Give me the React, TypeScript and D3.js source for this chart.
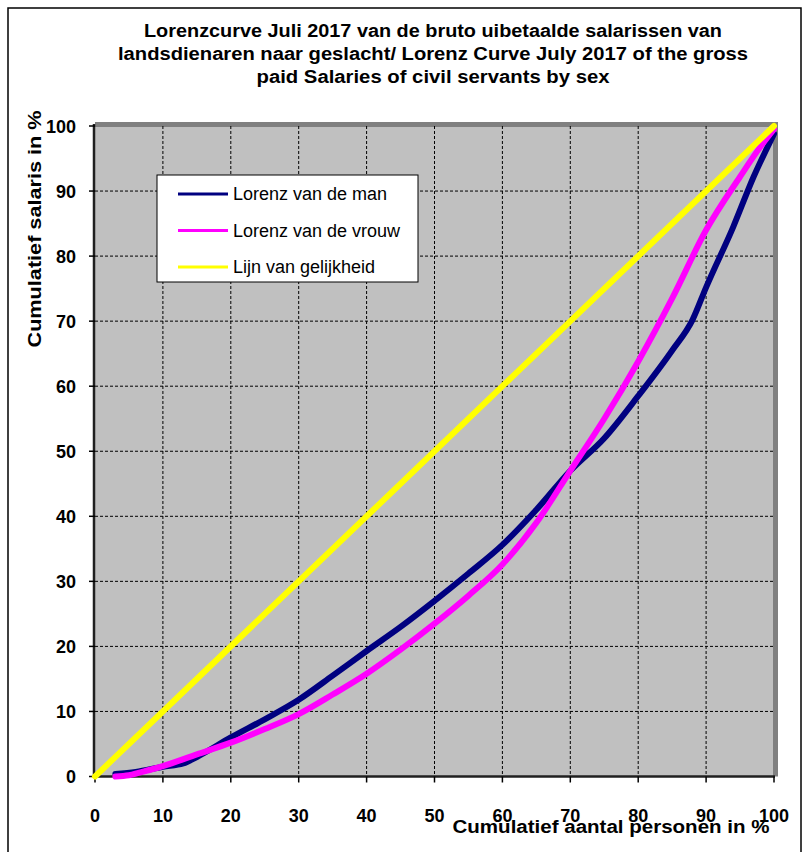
import React from "react";
import * as d3 from "d3";

const titleLines = [
  "Lorenzcurve Juli 2017 van de bruto uibetaalde salarissen van",
  "landsdienaren naar geslacht/ Lorenz Curve July 2017 of the gross",
  "paid  Salaries of civil servants by sex",
];
const titleWidths = [578, 630, 353];
const xTicks = [0, 10, 20, 30, 40, 50, 60, 70, 80, 90, 100];
const yTicks = [0, 10, 20, 30, 40, 50, 60, 70, 80, 90, 100];
const xTitle = "Cumulatief aantal personen in %";
const yTitle = "Cumulatief salaris in %";
const seriesNames = ["Lorenz van de man", "Lorenz van de vrouw", "Lijn van gelijkheid"];
const seriesColors = ["#000080", "#FF00FF", "#FFFF00"];

const manX = [3, 6, 10, 13, 15, 20, 25, 30, 35, 40, 45, 50, 55, 60, 65, 70, 75, 80, 85, 88, 90, 94, 97, 100];
const manY = [0.4, 0.7, 1.5, 2.0, 3.0, 6.0, 8.8, 11.8, 15.5, 19.3, 23.0, 27.0, 31.2, 35.6, 41.0, 47.0, 52.0, 58.5, 65.5, 70.2, 75.2, 84.5, 92.2, 98.8];
const womanX = [3, 5, 8, 10, 15, 20, 25, 30, 35, 40, 45, 50, 55, 60, 65, 70, 75, 80, 85, 90, 95, 98, 100];
const womanY = [0, 0.2, 1.0, 1.6, 3.4, 5.2, 7.3, 9.6, 12.6, 15.8, 19.5, 23.5, 27.8, 32.6, 39.0, 47.0, 55.0, 63.8, 73.5, 84.0, 92.2, 96.8, 99.5];
const equalX = [0, 100];
const equalY = [0, 100];

const FONT = "'Liberation Sans', Arial, sans-serif";

export default function App() {
  const x = d3.scaleLinear().domain([0, 100]).range([95, 774]);
  const y = d3.scaleLinear().domain([0, 100]).range([776.5, 126]);
  const line = d3
    .line<[number, number]>()
    .x((d) => x(d[0]))
    .y((d) => y(d[1]))
    .curve(d3.curveMonotoneX);
  const zip = (a: number[], b: number[]) => a.map((v, i) => [v, b[i]] as [number, number]);
  const series = [zip(manX, manY), zip(womanX, womanY), zip(equalX, equalY)];

  const x0 = x(0), x1 = x(100), y0 = y(0), y1 = y(100);

  return (
    <svg width={809} height={852} style={{ position: "absolute", left: 0, top: 0 }} fontFamily={FONT}>
      <rect x={0} y={0} width={809} height={852} fill="#fff" />
      <rect x={8} y={8} width={793} height={860} fill="none" stroke="#000" strokeWidth={1.5} />
      {titleLines.map((t, i) => (
        <text
          key={i}
          x={433}
          y={37 + i * 23}
          textAnchor="middle"
          fontWeight="bold"
          fontSize={18}
          textLength={titleWidths[i]}
          lengthAdjust="spacingAndGlyphs"
          fill="#000"
        >
          {t}
        </text>
      ))}
      {/* plot area */}
      <rect x={x0} y={y1} width={x1 - x0} height={y0 - y1} fill="#C0C0C0" />
      <path d={`M${x0},${y1 - 1.5}H${x1 + 1.5}V${y0}`} fill="none" stroke="#808080" strokeWidth={5} />
      {/* grid */}
      {xTicks.slice(1, -1).map((t) => (
        <line key={"gx" + t} x1={x(t)} x2={x(t)} y1={y1} y2={y0} stroke="#000" strokeWidth={1} strokeDasharray="3,2" />
      ))}
      {yTicks.slice(1, -1).map((t) => (
        <line key={"gy" + t} x1={x0} x2={x1} y1={y(t)} y2={y(t)} stroke="#000" strokeWidth={1} strokeDasharray="3,2" />
      ))}
      {/* axes */}
      <line x1={x0 - 1} x2={x0 - 1} y1={y1 - 2} y2={y0 + 1} stroke="#202020" strokeWidth={2.5} />
      <line x1={x0 - 2} x2={x1 + 1} y1={y0} y2={y0} stroke="#202020" strokeWidth={2.5} />
      {xTicks.map((t) => (
        <line key={"tx" + t} x1={x(t)} x2={x(t)} y1={y0} y2={y0 + 6} stroke="#000" strokeWidth={1.5} />
      ))}
      {yTicks.map((t) => (
        <line key={"ty" + t} x1={x0 - 6} x2={x0} y1={y(t)} y2={y(t)} stroke="#000" strokeWidth={1.5} />
      ))}
      {yTicks.map((t) => (
        <text key={"ly" + t} x={76} y={y(t) + 6.5} textAnchor="end" fontWeight="bold" fontSize={18} fill="#000">
          {t}
        </text>
      ))}
      {xTicks.map((t) => (
        <text key={"lx" + t} x={x(t)} y={y0 + 45} textAnchor="middle" fontWeight="bold" fontSize={18} fill="#000">
          {t}
        </text>
      ))}
      <text
        x={611}
        y={y0 + 56}
        textAnchor="middle"
        fontWeight="bold"
        fontSize={18}
        textLength={317}
        lengthAdjust="spacingAndGlyphs"
        fill="#000"
      >
        {xTitle}
      </text>
      <text
        transform={`translate(41,229) rotate(-90)`}
        textAnchor="middle"
        fontWeight="bold"
        fontSize={18}
        textLength={237}
        lengthAdjust="spacingAndGlyphs"
        fill="#000"
      >
        {yTitle}
      </text>
      {/* series */}
      {series.map((s, i) => (
        <path key={"s" + i} d={line(s) || ""} fill="none" stroke={seriesColors[i]} strokeWidth={6} strokeLinejoin="round" strokeLinecap="round" />
      ))}
      {/* legend */}
      <rect x={157} y={175} width={261} height={107} fill="#fff" stroke="#000" strokeWidth={1} />
      {seriesNames.map((n, i) => (
        <g key={"lg" + i}>
          <line x1={178} x2={228} y1={194 + i * 36.5} y2={194 + i * 36.5} stroke={seriesColors[i]} strokeWidth={3} />
          <text x={233} y={194 + i * 36.5 + 6} fontSize={18} fill="#000">
            {n}
          </text>
        </g>
      ))}
    </svg>
  );
}
